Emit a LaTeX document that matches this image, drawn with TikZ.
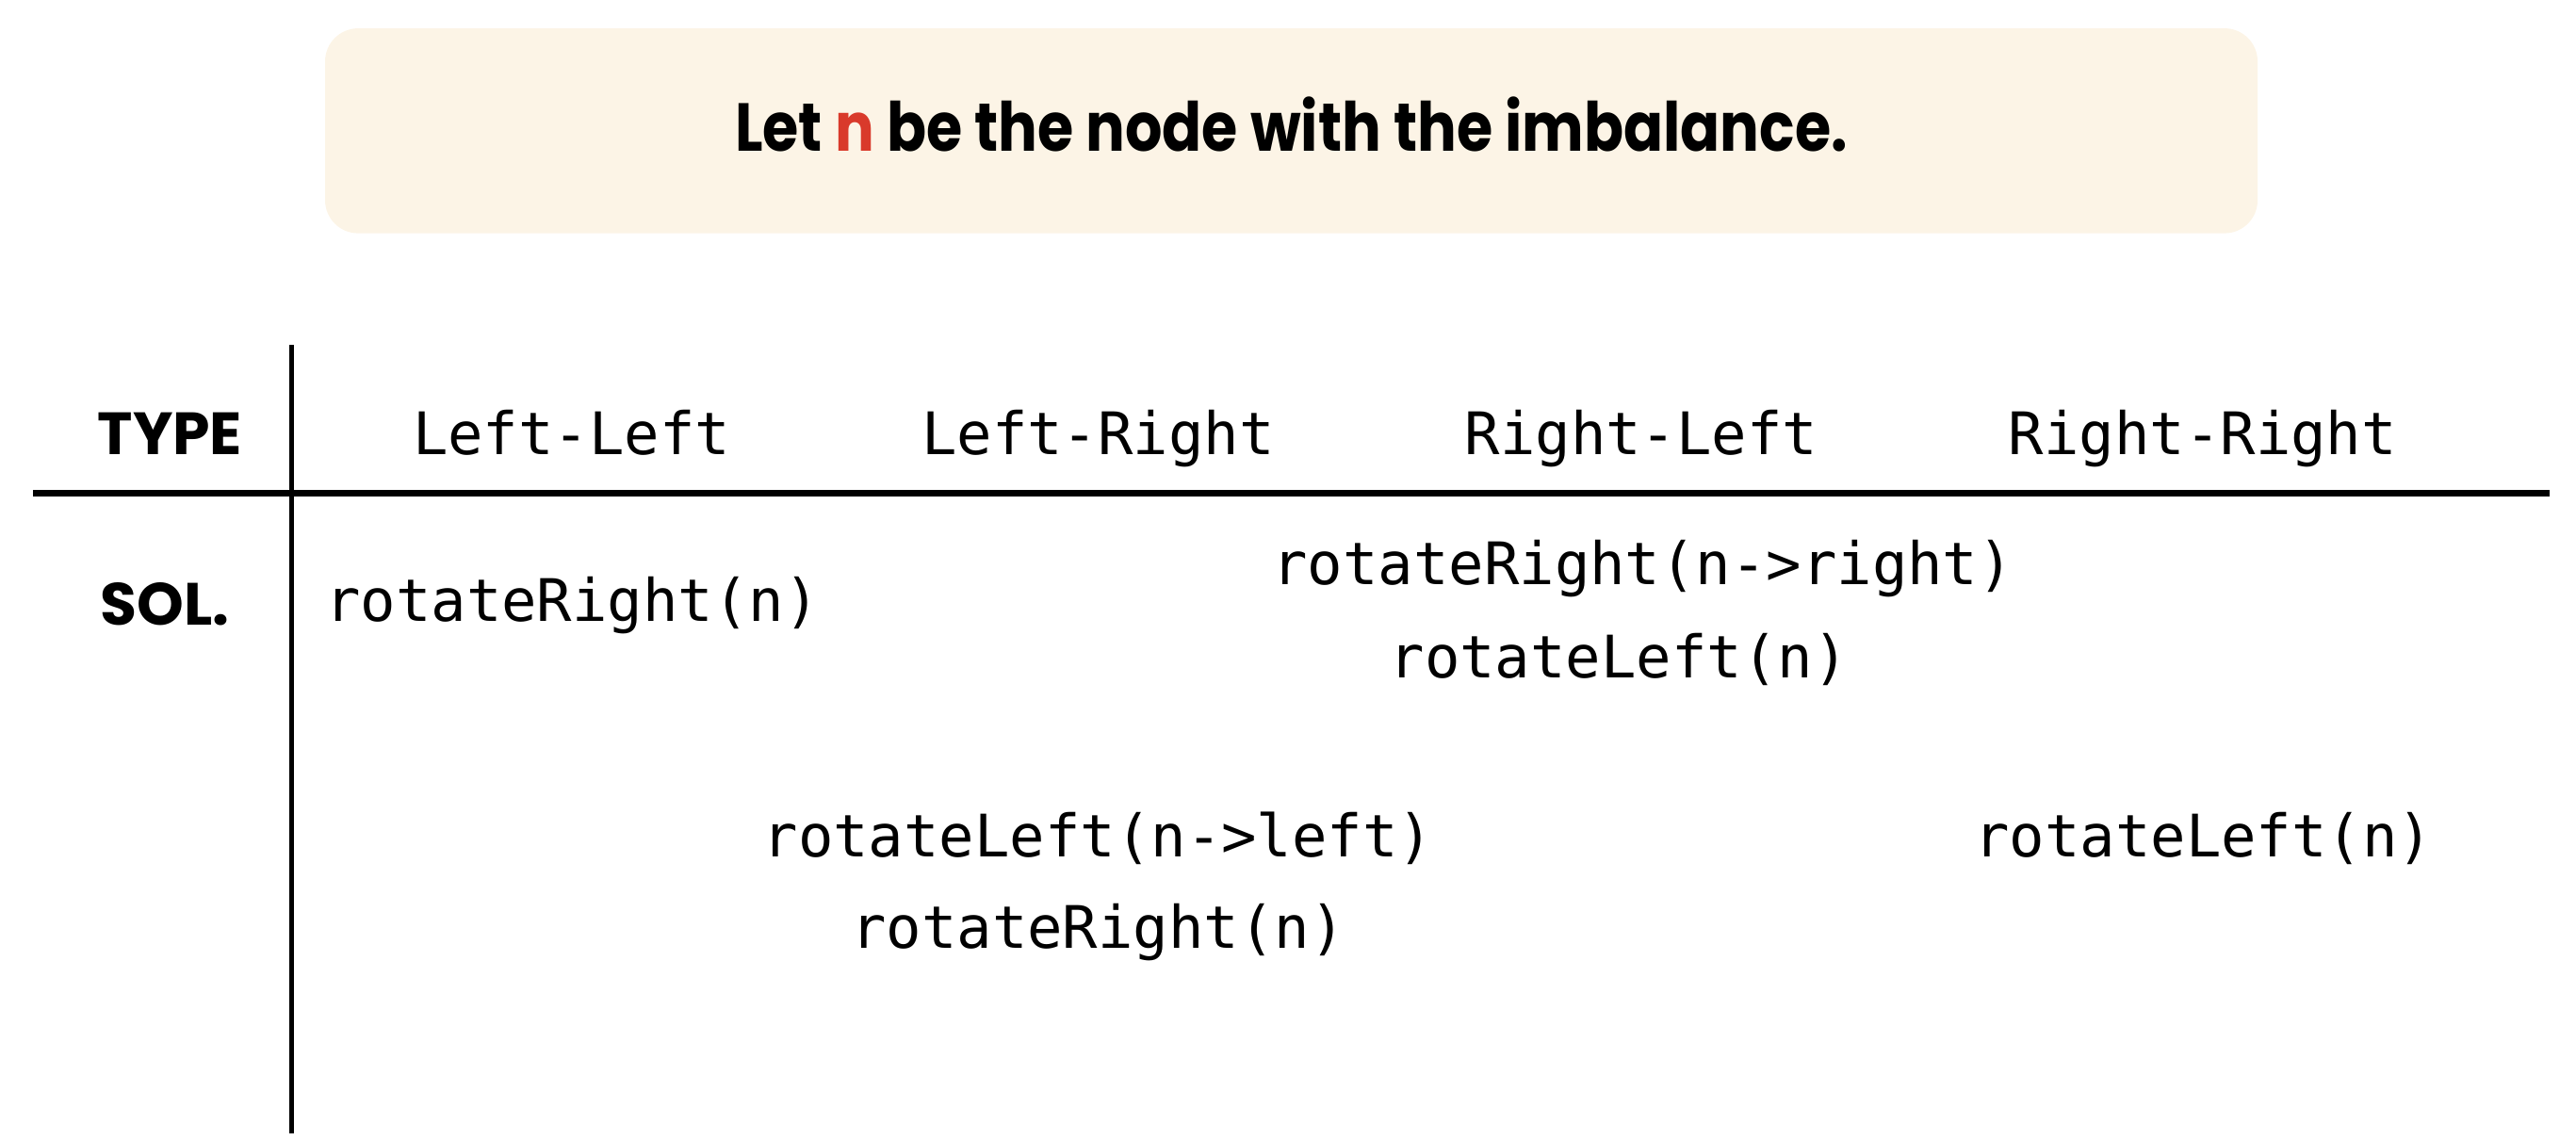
\documentclass[tikz,border=0pt]{standalone}
\usepackage{fontspec}
\setmainfont{Poppins}
\setmonofont{DejaVu Sans Mono}
\newfontfamily\titlefont{Poppins}[FakeStretch=0.86]
\definecolor{cream}{HTML}{FCF4E6}
\definecolor{imbred}{HTML}{D93A2B}
\begin{document}
\begin{tikzpicture}[x=0.017684cm,y=-0.017684cm,
                    code/.style={anchor=base,font=\ttfamily\fontsize{17.7}{21}\selectfont},
                    head/.style={anchor=base,font=\bfseries\fontsize{18}{22}\selectfont},
                    rule/.style={line width=1.4pt}]
\useasboundingbox (0,0) rectangle (1546,684);
\node[fill=cream, rounded corners=0.35cm, minimum width=20.51cm, minimum height=2.175cm] (banner) at (775,78.5) {};
\node[anchor=base, font=\titlefont\bfseries\fontsize{20.5}{24}\selectfont] (title) at (775,91) {Let \textcolor{imbred}{n} be the node with the imbalance.};

\coordinate (vtop) at (175,207);
\coordinate (vbot) at (175,680);
\coordinate (hl) at (20,296);
\coordinate (hr) at (1530,296);
\draw[rule] (vtop) -- (vbot);
\draw[rule, line width=1.8pt] (hl) -- (hr);

\node[head] (type) at (102,273) {TYPE};
\node[head] (sol) at (99,375) {SOL.};

\node[code] (ll) at (343,273) {Left-Left};
\node[code] (lr) at (659,273) {Left-Right};
\node[code] (rl) at (985,273) {Right-Left};
\node[code] (rr) at (1322,273) {Right-Right};

\node[code] (llsol) at (343.5,373) {rotateRight(n)};
\node[code] (rlsol1) at (986,351) {rotateRight(n->right)};
\node[code] (rlsol2) at (971.5,407) {rotateLeft(n)};
\node[code] (lrsol1) at (659,514) {rotateLeft(n->left)};
\node[code] (lrsol2) at (659,569) {rotateRight(n)};
\node[code] (rrsol) at (1322.5,514) {rotateLeft(n)};

\end{tikzpicture}
\end{document}
